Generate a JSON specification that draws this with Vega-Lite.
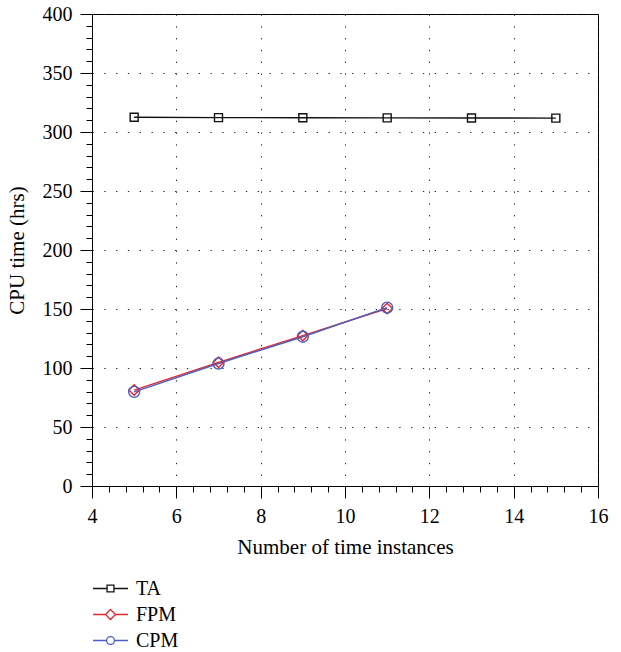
{
  "$schema": "https://vega.github.io/schema/vega-lite/v6.json",
  "width": 506,
  "height": 472,
  "autosize": "none",
  "padding": {"left": 92, "top": 14, "right": 23, "bottom": 166},
  "background": "white",
  "config": {
    "view": {"stroke": "black", "strokeWidth": 1},
    "font": "Liberation Serif",
    "axis": {
      "labelFont": "Liberation Serif",
      "titleFont": "Liberation Serif",
      "labelFontSize": 20,
      "titleFontSize": 21,
      "titleFontWeight": "normal",
      "labelColor": "black",
      "titleColor": "black",
      "domainColor": "black",
      "tickColor": "black",
      "domainWidth": 1,
      "tickWidth": 1,
      "gridColor": "#222",
      "gridWidth": 1,
      "gridDash": [1.3, 10.5],
      "labelOverlap": false,
      "labelFlush": false,
      "labelPadding": 8
    },
    "legend": {"labelFont": "Liberation Serif", "labelFontSize": 20, "labelColor": "black"}
  },
  "data": {
    "values": [
      {"series": "TA", "x": 5, "y": 312.5},
      {"series": "TA", "x": 7, "y": 312.2},
      {"series": "TA", "x": 9, "y": 312.1},
      {"series": "TA", "x": 11, "y": 312.0},
      {"series": "TA", "x": 13, "y": 311.9},
      {"series": "TA", "x": 15, "y": 311.8},
      {"series": "FPM", "x": 5, "y": 81.3},
      {"series": "FPM", "x": 7, "y": 104.8},
      {"series": "FPM", "x": 9, "y": 127.5},
      {"series": "FPM", "x": 11, "y": 150.4},
      {"series": "CPM", "x": 5, "y": 79.8},
      {"series": "CPM", "x": 7, "y": 103.8},
      {"series": "CPM", "x": 9, "y": 126.5},
      {"series": "CPM", "x": 11, "y": 151.2}
    ]
  },
  "encoding": {
    "x": {
      "field": "x",
      "type": "quantitative",
      "scale": {"domain": [4, 16], "nice": false, "zero": false},
      "axis": {
        "title": "Number of time instances",
        "titlePadding": 10,
        "format": "~g",
        "values": [4, 4.4, 4.8, 5.2, 5.6, 6, 6.4, 6.8, 7.2, 7.6, 8, 8.4, 8.8, 9.2, 9.6, 10, 10.4, 10.8, 11.2, 11.6, 12, 12.4, 12.8, 13.2, 13.6, 14, 14.4, 14.8, 15.2, 15.6, 16],
        "labelExpr": "datum.value % 2 === 0 ? datum.label : ''",
        "tickSize": {"condition": {"test": "datum.value % 2 === 0", "value": 12}, "value": 6},
        "gridOpacity": {"condition": {"test": "datum.value % 2 === 0", "value": 1}, "value": 0},
        "grid": true
      }
    },
    "y": {
      "field": "y",
      "type": "quantitative",
      "scale": {"domain": [0, 400], "nice": false},
      "axis": {
        "title": "CPU time (hrs)",
        "titlePadding": 15,
        "values": [0, 10, 20, 30, 40, 50, 60, 70, 80, 90, 100, 110, 120, 130, 140, 150, 160, 170, 180, 190, 200, 210, 220, 230, 240, 250, 260, 270, 280, 290, 300, 310, 320, 330, 340, 350, 360, 370, 380, 390, 400],
        "labelExpr": "datum.value % 50 === 0 ? datum.label : ''",
        "tickSize": {"condition": {"test": "datum.value % 50 === 0", "value": 12}, "value": 6},
        "gridOpacity": {"condition": {"test": "datum.value % 50 === 0", "value": 1}, "value": 0},
        "grid": true
      }
    },
    "color": {
      "field": "series",
      "type": "nominal",
      "scale": {"domain": ["TA", "FPM", "CPM"], "range": ["#111111", "#e3262e", "#4b5fc0"]},
      "legend": {
        "title": null,
        "orient": "none",
        "legendX": 5,
        "legendY": 561,
        "padding": 0,
        "rowPadding": 2,
        "symbolSize": 650,
        "symbolStrokeWidth": 1.3,
        "symbolFillColor": "transparent",
        "labelOffset": 12,
        "encode": {
          "symbols": {
            "update": {
              "shape": {"signal": "datum.value === 'TA' ? 'M-1.37,0H-0.27M0.27,0H1.37M-0.27,-0.27H0.27V0.27H-0.27Z' : datum.value === 'FPM' ? 'M-1.37,0H-0.39M0.39,0H1.37M0,-0.39L0.39,0L0,0.39L-0.39,0Z' : 'M-1.37,0H-0.31M0.31,0H1.37M0.31,0A0.31,0.31,0,1,1,-0.31,0A0.31,0.31,0,1,1,0.31,0Z'"},
              "fill": {"value": "transparent"}
            }
          }
        }
      }
    }
  },
  "layer": [
    {
      "mark": {"type": "line", "strokeWidth": 1.4}
    },
    {
      "mark": {"type": "point", "filled": false, "strokeWidth": 1.4, "opacity": 1},
      "encoding": {
        "shape": {
          "field": "series",
          "type": "nominal",
          "scale": {"domain": ["CPM", "FPM", "TA"], "range": ["circle", "diamond", "square"]},
          "legend": null
        },
        "size": {
          "field": "series",
          "type": "nominal",
          "scale": {"type": "ordinal", "domain": ["FPM", "TA", "CPM"], "range": [110, 64, 121]},
          "legend": null
        }
      }
    }
  ]
}
